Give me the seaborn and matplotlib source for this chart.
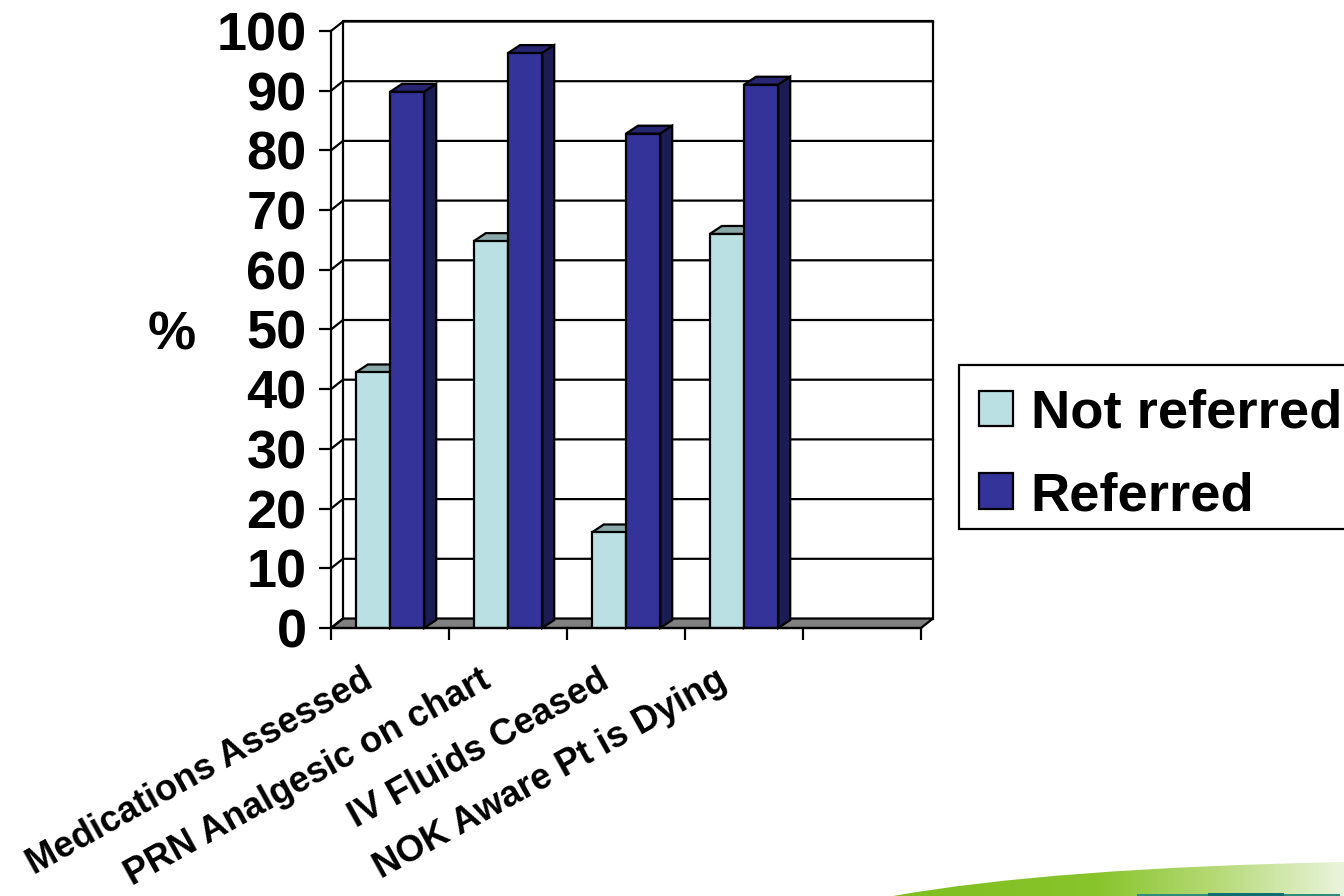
import numpy as np
import pandas as pd
import matplotlib
matplotlib.use("Agg")
import matplotlib.pyplot as plt
from matplotlib.patches import Polygon, Rectangle, PathPatch
from matplotlib.path import Path
from matplotlib.colors import LinearSegmentedColormap
from matplotlib.transforms import ScaledTranslation
import seaborn as sns

categories = ["Medications Assessed", "PRN Analgesic on chart", "IV Fluids Ceased", "NOK Aware Pt is Dying"]
not_referred = [42.8, 64.8, 16.0, 66.0]
referred = [89.8, 96.3, 82.8, 91.0]
series_names = ["Not referred", "Referred"]
y_ticks = list(range(0, 101, 10))

LIGHT, DARK = "#BBE0E3", "#333399"
LIGHT_TOP, DARK_TOP = "#8AA8AA", "#262673"
LIGHT_SIDE, DARK_SIDE = "#6E8688", "#1C1C55"

sns.set_theme(style="white")
plt.rcParams["font.family"] = ["Liberation Sans", "DejaVu Sans"]
plt.rcParams["font.weight"] = "bold"

W, H = 1344, 896
fig = plt.figure(figsize=(W / 100, H / 100), dpi=100, facecolor="white")
L, R, T, B = 331, 921, 31, 628
ax = fig.add_axes([L / W, 1 - B / H, (R - L) / W, (B - T) / H])

df = pd.DataFrame({
    "category": categories * 2,
    "series": [series_names[0]] * 4 + [series_names[1]] * 4,
    "value": not_referred + referred,
})
order = categories + [" "]
sns.barplot(data=df, x="category", y="value", hue="series", order=order, hue_order=series_names,
            palette=[LIGHT, DARK], saturation=1, width=0.58, gap=0, edgecolor="black",
            linewidth=1.6, ax=ax, zorder=5, err_kws={"linewidth": 0})

ax.set_xlim(-0.5, 4.5)
ax.set_ylim(0, 100)
dx = 12 * 5 / (R - L)
dy = 9.5 * 100 / (B - T)
bar_dy = 8 * 100 / (B - T)
x0, x1 = -0.5, 4.5
line = dict(color="black", lw=1.6, clip_on=False, solid_capstyle="projecting")

# floor and back wall
ax.add_patch(Polygon([(x0, 0), (x1, 0), (x1 + dx, dy), (x0 + dx, dy)], closed=True, fc="#808080",
                     ec="black", lw=1.6, clip_on=False, zorder=2))
ax.plot([x0 + dx, x0 + dx, x1 + dx, x1 + dx], [dy, 100 + dy, 100 + dy, dy], zorder=1, **line)
for v in y_ticks[1:]:
    ax.plot([x0, x0 + dx, x1 + dx], [v, v + dy, v + dy], zorder=1, **line)
ax.plot([x0, x0 + dx], [0, dy], zorder=3, **line)

# pseudo-3D faces, derived from the seaborn bars
faces = [(LIGHT_TOP, LIGHT_SIDE, 4), (DARK_TOP, DARK_SIDE, 6)]
for cont, (top_c, side_c, z) in zip(ax.containers, faces):
    for bar in cont:
        h = bar.get_height()
        if not np.isfinite(h) or h == 0:
            continue
        bx, bw = bar.get_x(), bar.get_width()
        bar.set_zorder(z + 1)
        ax.add_patch(Polygon([(bx, h), (bx + bw, h), (bx + bw + dx, h + bar_dy), (bx + dx, h + bar_dy)], closed=True,
                             fc=top_c, ec="black", lw=1.6, clip_on=False, zorder=z))
        ax.add_patch(Polygon([(bx + bw, 0), (bx + bw + dx, bar_dy), (bx + bw + dx, h + bar_dy), (bx + bw, h)], closed=True,
                             fc=side_c, ec="black", lw=1.6, clip_on=False, zorder=z))

for s in ["top", "right"]:
    ax.spines[s].set_visible(False)
for s in ["left", "bottom"]:
    ax.spines[s].set_color("black")
    ax.spines[s].set_linewidth(1.6)
    ax.spines[s].set_zorder(8)

ax.set_yticks(y_ticks)
ax.set_xticks(np.arange(x0, x1 + 0.5))
ax.set_xticklabels([])
ax.set_xticks(range(len(categories)), minor=True)
ax.set_xticklabels(categories, minor=True, rotation=29, ha="right", rotation_mode="anchor",
                   fontsize=26.3, fontweight="bold", color="black")
ax.tick_params(axis="x", which="minor", length=0, pad=25)
ax.tick_params(axis="x", which="major", length=8.5, width=1.6, color="black", bottom=True)
ax.tick_params(axis="y", length=8.5, width=1.6, color="black", left=True, labelsize=39, pad=9)
shift = ScaledTranslation(-28 / 100, 0, fig.dpi_scale_trans)
for lab in ax.get_xticklabels(minor=True):
    lab.set_transform(lab.get_transform() + shift)
for lab in ax.get_yticklabels():
    lab.set_fontweight("bold")
    lab.set_color("black")
ax.set_xlabel("")
ax.set_ylabel("%", rotation=0, fontsize=39, fontweight="bold", color="black", ha="center", va="center")
ax.yaxis.set_label_coords((172 - L) / (R - L), (B - 336) / (B - T))

handles, labels = ax.get_legend_handles_labels()
leg = ax.legend(handles, labels, loc="upper left", bbox_to_anchor=(959 / W, 1 - 369 / H),
                bbox_transform=fig.transFigure, frameon=False, handlelength=0.63, handleheight=0.63,
                handletextpad=0.33, labelspacing=0.6, borderpad=0.36, borderaxespad=0,
                prop={"size": 39.2, "weight": "bold"})
leg.set_zorder(10)
for t in leg.get_texts():
    t.set_color("black")

# background layer: legend frame and green swoosh decoration, bottom right corner
bg = fig.add_axes([0, 0, 1, 1], zorder=-1)
bg.axis("off")
cmap = LinearSegmentedColormap.from_list("sw", [(0, "#7FBF1F"), (0.45, "#88C42C"), (0.72, "#B6DA78"), (1, "#EAF4DC")])
im = bg.imshow(np.linspace(0, 1, 256).reshape(1, -1), extent=(893, W, H, 860), cmap=cmap, aspect="auto")
bg.set_xlim(0, W)
bg.set_ylim(H, 0)
bg.add_patch(Rectangle((959, 365), W + 20 - 959, 164, fc="white", ec="black", lw=1.6))
clip = PathPatch(Path([(893, 896), (1050, 868), (1344, 862), (1344, 896), (893, 896)],
                      [Path.MOVETO, Path.CURVE3, Path.CURVE3, Path.LINETO, Path.CLOSEPOLY]),
                 transform=bg.transData, fc="none", ec="none")
bg.add_patch(clip)
im.set_clip_path(clip)
bg.add_patch(Rectangle((1137, 894), 203, 2, fc="#2E8C78", ec="none"))
bg.add_patch(Rectangle((1208, 893), 76, 3, fc="#0E6E70", ec="none"))

fig.savefig("out.png", dpi=100, facecolor="white")
